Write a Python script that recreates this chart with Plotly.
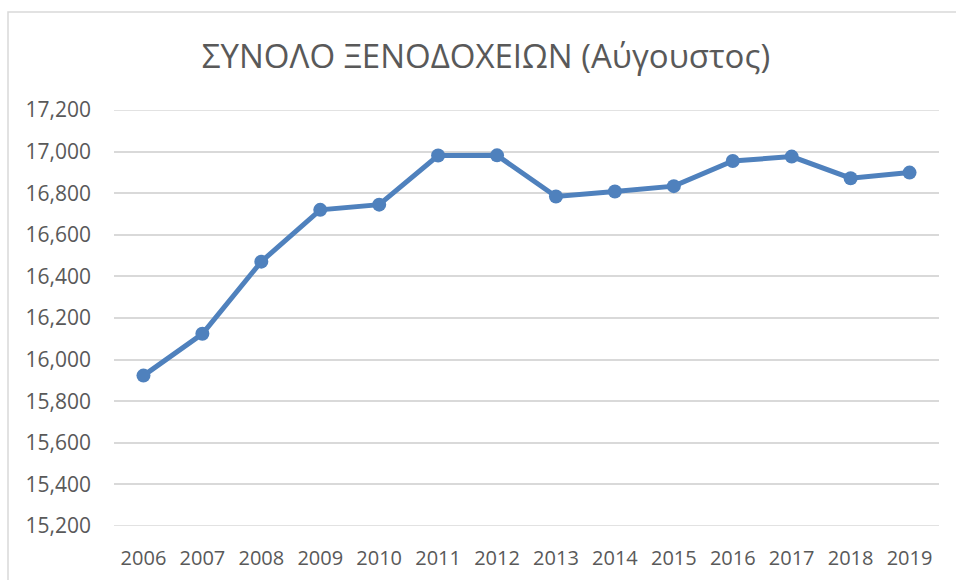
import plotly.graph_objects as go

years = ["2006", "2007", "2008", "2009", "2010", "2011", "2012",
         "2013", "2014", "2015", "2016", "2017", "2018", "2019"]
hotels = [15923, 16124, 16471, 16720, 16745, 16981, 16982,
          16784, 16808, 16834, 16955, 16976, 16872, 16899]
y_ticks = list(range(15200, 17201, 200))
title_text = "ΣΥΝΟΛΟ ΞΕΝΟΔΟΧΕΙΩΝ (Αύγουστος)"

font_family = "Open Sans"
text_color = "#595959"
grid_color = "#d9d9d9"
line_color = "#4F81BD"

fig = go.Figure()
fig.add_trace(go.Scatter(
    x=years, y=hotels, mode="lines+markers",
    line=dict(color=line_color, width=5),
    marker=dict(color=line_color, size=14),
    showlegend=False, hoverinfo="x+y",
))

W, H = 956, 580
ml, mt = 114, 110
mr = W - 939
mb = H - 526
pw, ph = W - ml - mr, H - mt - mb

shapes = [dict(type="rect", xref="paper", yref="paper",
               x0=(8 - ml) / pw, x1=(990 - ml) / pw,
               y0=-(mb + 20) / ph, y1=(ph + mt - 12) / ph,
               line=dict(color=grid_color, width=1.5), layer="below")]
# edge gridlines (plotly clips grid lines lying on the plot-area edges)
for v in (y_ticks[0], y_ticks[-1]):
    shapes.append(dict(type="line", xref="paper", yref="y", x0=0, x1=1,
                       y0=v, y1=v, line=dict(color=grid_color, width=1.5),
                       layer="below"))

fig.update_layout(
    width=W, height=H,
    margin=dict(l=ml, r=mr, t=mt, b=mb, pad=0, autoexpand=False),
    paper_bgcolor="white", plot_bgcolor="white",
    font=dict(family=font_family, color=text_color, size=21),
    title=dict(text=title_text, x=486 / W, xref="container", xanchor="center",
               y=1 - 56 / H, yref="container", yanchor="middle",
               font=dict(family=font_family, size=33, color=text_color)),
    xaxis=dict(type="category", range=[-0.5, len(years) - 0.5],
               showgrid=False, zeroline=False, showline=False, automargin=False,
               ticks="", ticklabelstandoff=18,
               tickfont=dict(size=20, color=text_color)),
    yaxis=dict(range=[15200, 17200], tickvals=y_ticks, automargin=False,
               tickformat=",d", showgrid=True, gridcolor=grid_color, gridwidth=1.5,
               zeroline=False, showline=False, ticks="", ticklabelstandoff=22,
               tickfont=dict(size=21, color=text_color)),
    shapes=shapes,
)

fig.write_html(
    "out.html",
    config={"displayModeBar": False},
    post_script="document.body.style.margin='0';document.body.style.overflow='hidden';",
)
